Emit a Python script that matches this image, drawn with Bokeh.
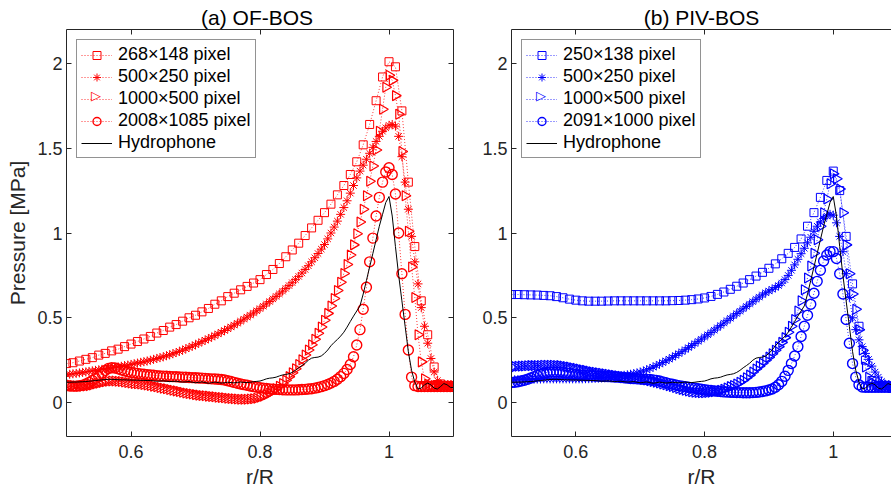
import numpy as np
from bokeh.plotting import figure
from bokeh.layouts import row
from bokeh.models import (Range1d, FixedTicker, LinearAxis, CustomJSTickFormatter,
                          Legend, LegendItem, Label)
from bokeh.embed import file_html
from bokeh.resources import INLINE

FONT = "Liberation Sans"
INK = "#262626"
RED = "#ff0000"
BLUE = "#0000ff"

X_TICKS = [0.6, 0.8, 1.0]
Y_TICKS = [0, 0.5, 1, 1.5, 2]

R_START = 0.5      # first r/R sample
STEP_SQ = 0.01     # r/R spacing of the coarse (square) series
STEP = 0.005       # r/R spacing of the other series

A_TITLE = "(a)  OF-BOS"
B_TITLE = "(b) PIV-BOS"
A_LABELS = ["268×148 pixel", "500×250 pixel", "1000×500 pixel", "2008×1085 pixel", "Hydrophone"]
B_LABELS = ["250×138 pixel", "500×250 pixel", "1000×500 pixel", "2091×1000 pixel", "Hydrophone"]

# Hydrophone (same in both panels), step 0.005 from r/R = 0.5
HYD = [0.120, 0.120, 0.121, 0.121, 0.122, 0.123, 0.124, 0.126, 0.128, 0.130,
       0.132, 0.134, 0.136, 0.137, 0.137, 0.136, 0.135, 0.134, 0.134, 0.133,
       0.133, 0.132, 0.132, 0.131, 0.131, 0.130, 0.130, 0.128, 0.126, 0.127,
       0.128, 0.126, 0.124, 0.125, 0.126, 0.123, 0.121, 0.122, 0.124, 0.120,
       0.117, 0.119, 0.122, 0.118, 0.114, 0.117, 0.121, 0.118, 0.115, 0.117,
       0.120, 0.118, 0.116, 0.119, 0.121, 0.119, 0.118, 0.120, 0.123, 0.125,
       0.127, 0.133, 0.140, 0.144, 0.146, 0.150, 0.157, 0.163, 0.166, 0.170,
       0.178, 0.190, 0.205, 0.218, 0.232, 0.250, 0.262, 0.266, 0.268, 0.275,
       0.290, 0.310, 0.335, 0.355, 0.372, 0.392, 0.415, 0.445, 0.478, 0.510,
       0.540, 0.570, 0.640, 0.720, 0.800, 0.880, 0.960, 1.040, 1.110, 1.180,
       1.215, 1.100, 0.920, 0.750, 0.600, 0.450, 0.300, 0.190, 0.120, 0.080,
       0.085, 0.105, 0.115, 0.105, 0.085, 0.080, 0.095, 0.112, 0.105, 0.090,
       0.088]

# ---------------- (a) OF-BOS ----------------
A_SQ = [0.230, 0.235, 0.245, 0.255, 0.265, 0.280, 0.290, 0.305, 0.315, 0.330,
        0.345, 0.360, 0.375, 0.390, 0.410, 0.425, 0.445, 0.460, 0.480, 0.500,
        0.515, 0.535, 0.555, 0.580, 0.600, 0.625, 0.645, 0.665, 0.685, 0.705,
        0.725, 0.755, 0.785, 0.820, 0.860, 0.900, 0.940, 0.985, 1.030, 1.075,
        1.120, 1.170, 1.225, 1.280, 1.345, 1.420, 1.520, 1.640, 1.780, 1.920,
        2.010, 1.980, 1.720, 1.300, 0.920, 0.600, 0.400, 0.210, 0.110, 0.100]

A_ST = [0.165, 0.167, 0.170, 0.172, 0.175, 0.178, 0.181, 0.184, 0.187, 0.190,
        0.193, 0.196, 0.199, 0.202, 0.205, 0.208, 0.211, 0.214, 0.218, 0.221,
        0.225, 0.229, 0.233, 0.237, 0.241, 0.245, 0.250, 0.255, 0.260, 0.265,
        0.270, 0.276, 0.282, 0.288, 0.295, 0.302, 0.309, 0.317, 0.325, 0.333,
        0.341, 0.350, 0.359, 0.368, 0.377, 0.386, 0.395, 0.405, 0.415, 0.425,
        0.435, 0.446, 0.457, 0.468, 0.480, 0.492, 0.504, 0.516, 0.528, 0.541,
        0.554, 0.568, 0.582, 0.596, 0.611, 0.626, 0.641, 0.657, 0.673, 0.690,
        0.707, 0.725, 0.744, 0.764, 0.785, 0.807, 0.830, 0.854, 0.879, 0.905,
        0.932, 0.965, 1.000, 1.035, 1.070, 1.110, 1.150, 1.190, 1.235, 1.280,
        1.325, 1.365, 1.400, 1.435, 1.470, 1.505, 1.540, 1.570, 1.600, 1.620,
        1.635, 1.640, 1.630, 1.570, 1.450, 1.300, 1.140, 0.980, 0.830, 0.700,
        0.560, 0.450, 0.350, 0.260, 0.180, 0.130, 0.110, 0.100, 0.100, 0.100,
        0.100]

A_TR = [0.105, 0.103, 0.100, 0.098, 0.097, 0.097, 0.098, 0.100, 0.104, 0.109,
        0.114, 0.119, 0.123, 0.126, 0.127, 0.127, 0.126, 0.124, 0.121, 0.118,
        0.115, 0.113, 0.111, 0.109, 0.107, 0.104, 0.101, 0.097, 0.093, 0.089,
        0.085, 0.081, 0.077, 0.073, 0.069, 0.065, 0.061, 0.057, 0.053, 0.050,
        0.047, 0.044, 0.042, 0.040, 0.038, 0.036, 0.034, 0.032, 0.030, 0.028,
        0.026, 0.024, 0.022, 0.021, 0.020, 0.020, 0.020, 0.021, 0.023, 0.026,
        0.031, 0.038, 0.047, 0.057, 0.068, 0.081, 0.096, 0.113, 0.132, 0.153,
        0.176, 0.200, 0.225, 0.252, 0.280, 0.310, 0.341, 0.374, 0.409, 0.446,
        0.485, 0.526, 0.569, 0.614, 0.661, 0.710, 0.761, 0.814, 0.870, 0.930,
        0.995, 1.065, 1.140, 1.220, 1.305, 1.395, 1.490, 1.600, 1.730, 1.860,
        1.930, 1.900, 1.810, 1.700, 1.480, 1.220, 1.010, 0.800, 0.620, 0.400,
        0.240, 0.140, 0.110, 0.100, 0.100, 0.100, 0.100, 0.100, 0.100, 0.100,
        0.100]

A_CI = [0.100, 0.098, 0.097, 0.097, 0.099, 0.103, 0.110, 0.119, 0.130, 0.142,
        0.155, 0.173, 0.190, 0.201, 0.205, 0.204, 0.199, 0.193, 0.187, 0.182,
        0.178, 0.175, 0.172, 0.169, 0.167, 0.165, 0.163, 0.161, 0.159, 0.157,
        0.156, 0.155, 0.154, 0.153, 0.152, 0.151, 0.150, 0.149, 0.148, 0.147,
        0.146, 0.145, 0.144, 0.143, 0.141, 0.140, 0.139, 0.138, 0.136, 0.133,
        0.129, 0.124, 0.119, 0.114, 0.110, 0.106, 0.102, 0.098, 0.094, 0.091,
        0.088, 0.085, 0.083, 0.081, 0.079, 0.078, 0.077, 0.076, 0.075, 0.075,
        0.075, 0.075, 0.076, 0.077, 0.078, 0.080, 0.082, 0.085, 0.089, 0.094,
        0.100, 0.107, 0.115, 0.125, 0.138, 0.153, 0.172, 0.195, 0.225, 0.270,
        0.340, 0.430, 0.550, 0.680, 0.830, 0.970, 1.100, 1.210, 1.300, 1.360,
        1.385, 1.345, 1.230, 1.000, 0.760, 0.520, 0.310, 0.150, 0.100, 0.095,
        0.095, 0.095, 0.095, 0.095, 0.095, 0.095, 0.095, 0.095, 0.095, 0.095,
        0.095]

# ---------------- (b) PIV-BOS ----------------
B_SQ = [0.637, 0.637, 0.636, 0.635, 0.634, 0.632, 0.630, 0.625, 0.618, 0.610,
        0.604, 0.600, 0.598, 0.598, 0.598, 0.599, 0.600, 0.600, 0.600, 0.600,
        0.600, 0.600, 0.600, 0.600, 0.600, 0.601, 0.602, 0.604, 0.607, 0.611,
        0.617, 0.626, 0.638, 0.652, 0.668, 0.686, 0.705, 0.725, 0.746, 0.768,
        0.792, 0.818, 0.848, 0.880, 0.915, 0.965, 1.040, 1.120, 1.210, 1.310,
        1.365, 1.250, 0.980, 0.700, 0.450, 0.250, 0.130, 0.100, 0.100, 0.095]

B_ST = [0.135, 0.135, 0.136, 0.136, 0.137, 0.137, 0.138, 0.138, 0.139, 0.139,
        0.140, 0.140, 0.140, 0.140, 0.140, 0.140, 0.140, 0.140, 0.140, 0.140,
        0.140, 0.140, 0.140, 0.141, 0.141, 0.142, 0.143, 0.144, 0.145, 0.147,
        0.149, 0.151, 0.153, 0.155, 0.158, 0.161, 0.164, 0.167, 0.171, 0.175,
        0.180, 0.186, 0.193, 0.201, 0.209, 0.218, 0.227, 0.236, 0.246, 0.256,
        0.267, 0.278, 0.289, 0.300, 0.312, 0.324, 0.336, 0.348, 0.361, 0.374,
        0.387, 0.400, 0.413, 0.427, 0.441, 0.455, 0.469, 0.483, 0.497, 0.511,
        0.525, 0.539, 0.553, 0.567, 0.581, 0.595, 0.609, 0.622, 0.635, 0.647,
        0.658, 0.668, 0.678, 0.690, 0.705, 0.725, 0.750, 0.780, 0.812, 0.845,
        0.878, 0.910, 0.942, 0.975, 1.010, 1.040, 1.065, 1.085, 1.100, 1.110,
        1.105, 1.060, 0.980, 0.890, 0.760, 0.620, 0.500, 0.430, 0.370, 0.330,
        0.290, 0.255, 0.215, 0.180, 0.150, 0.125, 0.110, 0.100, 0.100, 0.100,
        0.100]

B_TR = [0.210, 0.212, 0.214, 0.215, 0.216, 0.217, 0.218, 0.218, 0.219, 0.219,
        0.220, 0.220, 0.220, 0.220, 0.219, 0.218, 0.216, 0.213, 0.210, 0.206,
        0.202, 0.198, 0.194, 0.190, 0.186, 0.182, 0.179, 0.176, 0.173, 0.170,
        0.167, 0.164, 0.161, 0.158, 0.155, 0.152, 0.150, 0.148, 0.146, 0.143,
        0.140, 0.137, 0.133, 0.129, 0.125, 0.120, 0.115, 0.110, 0.105, 0.100,
        0.095, 0.089, 0.083, 0.078, 0.073, 0.068, 0.064, 0.061, 0.059, 0.058,
        0.058, 0.059, 0.061, 0.064, 0.068, 0.073, 0.079, 0.086, 0.094, 0.101,
        0.110, 0.120, 0.132, 0.146, 0.162, 0.180, 0.198, 0.215, 0.232, 0.250,
        0.268, 0.288, 0.308, 0.330, 0.355, 0.383, 0.415, 0.450, 0.490, 0.540,
        0.600, 0.665, 0.735, 0.805, 0.880, 0.960, 1.040, 1.120, 1.200, 1.290,
        1.350, 1.320, 1.260, 1.120, 0.930, 0.760, 0.640, 0.550, 0.430, 0.310,
        0.210, 0.150, 0.120, 0.105, 0.100, 0.100, 0.100, 0.100, 0.100, 0.100,
        0.100]

B_CI = [0.118, 0.120, 0.123, 0.127, 0.132, 0.138, 0.145, 0.152, 0.160, 0.167,
        0.173, 0.177, 0.180, 0.181, 0.181, 0.180, 0.178, 0.175, 0.172, 0.169,
        0.166, 0.164, 0.162, 0.160, 0.159, 0.158, 0.157, 0.156, 0.155, 0.154,
        0.153, 0.152, 0.151, 0.150, 0.148, 0.146, 0.144, 0.142, 0.141, 0.140,
        0.139, 0.138, 0.137, 0.136, 0.134, 0.131, 0.127, 0.122, 0.117, 0.112,
        0.108, 0.104, 0.100, 0.097, 0.094, 0.091, 0.088, 0.085, 0.082, 0.079,
        0.076, 0.073, 0.071, 0.069, 0.067, 0.065, 0.063, 0.062, 0.061, 0.060,
        0.059, 0.059, 0.058, 0.058, 0.058, 0.059, 0.060, 0.062, 0.065, 0.069,
        0.074, 0.080, 0.090, 0.105, 0.125, 0.155, 0.190, 0.230, 0.275, 0.330,
        0.390, 0.450, 0.515, 0.580, 0.645, 0.715, 0.780, 0.835, 0.870, 0.890,
        0.890, 0.850, 0.760, 0.640, 0.490, 0.350, 0.230, 0.150, 0.105, 0.092,
        0.090, 0.090, 0.090, 0.090, 0.090, 0.090, 0.090, 0.090, 0.090, 0.090,
        0.090]


def rgrid(vals, step):
    return R_START + step * np.arange(len(vals))


def style_axis(ax, ticks, show_labels=True):
    ax.ticker = FixedTicker(ticks=ticks)
    ax.axis_line_color = INK
    ax.axis_line_width = 1
    ax.major_tick_line_color = INK
    ax.major_tick_line_width = 1
    ax.major_tick_in = 5
    ax.major_tick_out = 0
    ax.minor_tick_line_color = None
    ax.major_label_text_font = FONT
    ax.major_label_text_font_size = "18px"
    ax.major_label_text_color = INK
    ax.axis_label_text_font = FONT
    ax.axis_label_text_font_size = "21px"
    ax.axis_label_text_font_style = "normal"
    ax.axis_label_text_color = INK
    if show_labels:
        ax.formatter = CustomJSTickFormatter(code="return tick.toFixed(1).replace(/\\.0$/, '');")
    else:
        ax.formatter = CustomJSTickFormatter(code="return '';")
        ax.major_label_standoff = 0


def make_panel(width, x_end, border_left, border_right, with_right_axis, ylabel, title, title_shift):
    p = figure(width=width, height=495,
               x_range=Range1d(0.5, x_end), y_range=Range1d(-0.2, 2.2),
               output_backend="svg", toolbar_location=None,
               min_border_left=border_left, min_border_right=border_right,
               min_border_top=29, min_border_bottom=59)
    p.title.text = title
    p.title.text_font = FONT
    p.title.text_font_size = "21px"
    p.title.text_font_style = "normal"
    p.title.text_color = "black"
    p.title.align = "center"
    p.title.offset = title_shift
    p.title.standoff = 2
    p.xgrid.visible = False
    p.ygrid.visible = False
    p.outline_line_color = None
    p.background_fill_color = None
    p.border_fill_color = "white"
    style_axis(p.xaxis[0], X_TICKS)
    style_axis(p.yaxis[0], Y_TICKS)
    p.xaxis[0].axis_label = "r/R"
    p.xaxis[0].major_label_standoff = 8
    p.xaxis[0].axis_label_standoff = 4
    p.yaxis[0].major_label_standoff = 4
    p.yaxis[0].axis_label_standoff = 5
    if ylabel:
        p.yaxis[0].axis_label = ylabel
    top = LinearAxis()
    style_axis(top, X_TICKS, show_labels=False)
    p.add_layout(top, "above")
    if with_right_axis:
        right = LinearAxis()
        style_axis(right, Y_TICKS, show_labels=False)
        p.add_layout(right, "right")
    return p


def add_series(p, x, y, color, marker, size, angle=0.0, width=1.0):
    ln = p.line(x, y, line_color=color, line_width=0.8, line_dash="1 2")
    sc = p.scatter(x, y, marker=marker, size=size, angle=angle,
                   line_color=color, fill_color=None, line_width=width)
    return ln, sc


def fill_panel(p, sq, st, tr, ci, color, labels, sym_x, sym_y):
    l1, s1 = add_series(p, rgrid(sq, STEP_SQ), sq, color, "square", 8)
    l2, s2 = add_series(p, rgrid(st, STEP), st, color, "asterisk", 9)
    l3, s3 = add_series(p, rgrid(tr, STEP), tr, color, "triangle", 10,
                        angle=-np.pi / 2, width=1.2)
    l4, s4 = add_series(p, rgrid(ci, STEP), ci, color, "circle", 10, width=1.4)
    h = p.line(rgrid(HYD, STEP), HYD, line_color="black", line_width=1)
    groups = [[l1, s1], [l2, s2], [l3], [l4, s4], [h]]
    items = [LegendItem(label=lab, renderers=rs) for lab, rs in zip(labels, groups)]
    leg = Legend(items=items, location="top_left")
    leg.label_text_font = FONT
    leg.label_text_font_size = "18px"
    leg.label_text_color = "black"
    leg.border_line_color = INK
    leg.border_line_width = 1
    leg.background_fill_color = "white"
    leg.background_fill_alpha = 0.0
    leg.padding = 4
    leg.spacing = 1
    leg.margin = 10
    leg.label_height = 20
    leg.glyph_height = 20
    leg.glyph_width = 31
    leg.label_standoff = 6
    p.add_layout(leg)
    # right-pointing triangle symbol of the third legend entry
    tri = Label(x=sym_x, y=sym_y, text="▷", text_font="DejaVu Sans",
                text_font_size="13px", text_color=color,
                text_align="center", text_baseline="middle")
    p.add_layout(tri)


p1 = make_panel(479, 1.1, 66, 26, True, "Pressure [MPa]", A_TITLE, -18)
fill_panel(p1, A_SQ, A_ST, A_TR, A_CI, RED, A_LABELS, 0.5457, 1.811)

p2 = make_panel(412, 1.0905, 32, 0, False, None, B_TITLE, -18)
fill_panel(p2, B_SQ, B_ST, B_TR, B_CI, BLUE, B_LABELS, 0.5458, 1.811)

layout = row(p1, p2)
open("out.html", "w").write(file_html(layout, INLINE))
